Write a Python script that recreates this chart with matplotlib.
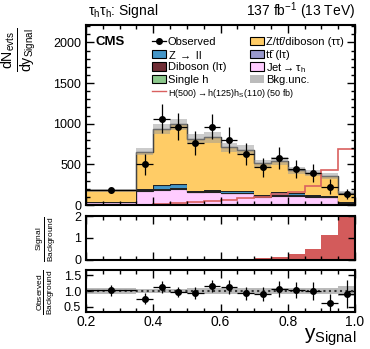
import numpy as np
import matplotlib
matplotlib.use('Agg')
import matplotlib.pyplot as plt
from matplotlib.patches import Rectangle
from matplotlib.lines import Line2D
from matplotlib.ticker import MultipleLocator, FormatStrFormatter

plt.rcParams['font.family'] = ['Liberation Sans', 'DejaVu Sans']
plt.rcParams['mathtext.fontset'] = 'custom'
plt.rcParams['mathtext.rm'] = 'Liberation Sans'
plt.rcParams['mathtext.it'] = 'Liberation Sans:italic'
plt.rcParams['mathtext.bf'] = 'Liberation Sans:bold'

# binning in y_Signal
edges = [0.2, 0.35, 0.4, 0.45, 0.5, 0.55, 0.6, 0.65, 0.7, 0.75, 0.8, 0.85, 0.9, 0.95, 1.0]

# background components (dN/dy)
single_h = [5, 5, 8, 8, 8, 8, 8, 8, 8, 10, 10, 10, 10, 5]
tt_lt = [2, 5, 8, 8, 6, 7, 6, 6, 5, 6, 6, 5, 5, 2]
jet_tau = [30, 165, 165, 185, 140, 150, 130, 130, 90, 95, 95, 88, 80, 20]
diboson_lt = [3, 8, 10, 10, 8, 8, 8, 8, 8, 8, 8, 8, 8, 3]
z_ll = [3, 10, 55, 50, 8, 10, 15, 15, 8, 40, 30, 8, 5, 2]
z_tautau = [136, 465, 691, 731, 642, 650, 545, 512, 393, 383, 280, 277, 246, 114]
bkg_rel_unc = [0.09, 0.07, 0.07, 0.07, 0.08, 0.08, 0.08, 0.08, 0.09, 0.09, 0.1, 0.1, 0.11, 0.15]

# observed data
observed = [182, 500, 1062, 962, 762, 962, 800, 625, 462, 579, 442, 395, 223, 132]
observed_err = [33, 125, 180, 167, 146, 154, 154, 138, 117, 133, 113, 113, 92, 63]

# signal H(500)->h(125)hS(110), 50 fb
signal = [0, 2, 15, 20, 40, 50, 65, 80, 95, 130, 160, 238, 431, 686]
sig_over_bkg = [0, 0, 0.005, 0.005, 0.01, 0.015, 0.02, 0.03, 0.065, 0.13, 0.27, 0.5, 1.11, 2.5]

C_ZTT = '#ffcc66'
C_ZLL = '#4496c8'
C_TT = '#9999cc'
C_VV = '#6f2d35'
C_JET = '#ffccff'
C_H = '#8cc88c'
C_SIG = '#d9605f'

edges = np.array(edges)
centers = 0.5 * (edges[1:] + edges[:-1])
halfw = 0.5 * (edges[1:] - edges[:-1])

# bottom -> top
stack = [(single_h, C_H), (tt_lt, C_TT), (jet_tau, C_JET), (diboson_lt, C_VV),
         (z_ll, C_ZLL), (z_tautau, C_ZTT)]

fig = plt.figure(figsize=(3.70, 3.49), dpi=100)
W, H = 370.0, 349.0


def px(x, y):
    return x / W, 1 - y / H


L, R = 86 / W, 355 / W
ax = fig.add_axes([L, 1 - 205 / H, R - L, 180 / H])
ax_sb = fig.add_axes([L, 1 - 259.5 / H, R - L, 44 / H])
ax_r = fig.add_axes([L, 1 - 312 / H, R - L, 42 / H])

# stacked backgrounds
bottom = np.zeros(len(centers))
for vals, col in stack:
    top = bottom + np.array(vals)
    ax.stairs(top, edges, baseline=bottom, fill=True, color=col, lw=0)
    ax.stairs(top, edges, baseline=None, color='#222222', lw=0.8)
    bottom = top
total = bottom
unc = total * np.array(bkg_rel_unc)
ax.stairs(total, edges, baseline=None, color='#444444', lw=1.0)
ax.stairs(total + unc, edges, baseline=total - unc, fill=True, color='#999999', alpha=0.5, lw=0)

ax.stairs(signal, edges, baseline=None, color=C_SIG, lw=1.2)

ax.errorbar(centers, observed, yerr=observed_err, xerr=halfw, fmt='o', color='black',
            ms=4, lw=0.9, capsize=0, zorder=5)

ax.set_xlim(0.2, 1.0)
ax.set_ylim(0, 2215)
ax.yaxis.set_major_locator(MultipleLocator(500))
ax.yaxis.set_minor_locator(MultipleLocator(100))
ax.tick_params(labelbottom=False)

# signal / background
ax_sb.stairs(sig_over_bkg, edges, fill=True, color='#d35b5b', lw=0)
ax_sb.set_xlim(0.2, 1.0)
ax_sb.set_ylim(0, 2.03)
ax_sb.set_yticks([0, 1, 2])
ax_sb.tick_params(labelbottom=False)

# observed / background
ratio = np.array(observed) / total
ratio_err = np.array(observed_err) / total
rel = np.array(bkg_rel_unc)
ax_r.stairs(1 + rel, edges, baseline=1 - rel, fill=True, color='#bbbbbb', lw=0)
ax_r.axhline(1.0, color='#333333', ls=':', lw=1.5)
ax_r.errorbar(centers, ratio, yerr=ratio_err, xerr=halfw, fmt='o', color='black',
              ms=4, lw=0.9, capsize=0, zorder=5)
ax_r.set_xlim(0.2, 1.0)
ax_r.set_ylim(0.33, 1.67)
ax_r.set_yticks([0.5, 1.0, 1.5])
ax_r.yaxis.set_major_formatter(FormatStrFormatter('%.1f'))
ax_r.xaxis.set_major_formatter(FormatStrFormatter('%.1f'))

for a in (ax, ax_sb, ax_r):
    a.xaxis.set_major_locator(MultipleLocator(0.2))
    a.xaxis.set_minor_locator(MultipleLocator(0.05))
    a.tick_params(which='both', direction='in', top=True, right=True, width=1.0, labelsize=9)
    a.tick_params(which='major', length=6)
    a.tick_params(which='minor', length=3)
    for s in a.spines.values():
        s.set_linewidth(1.5)
ax_sb.tick_params(which='major', axis='y', length=5)
ax_r.tick_params(which='major', axis='y', length=5)
ax_r.tick_params(axis='x', labelsize=10, pad=2)

# legend, drawn by hand
col1 = [('obs', 'Observed'), (C_ZLL, r'Z $\rightarrow$ ll'), (C_VV, 'Diboson (lτ)'), (C_H, 'Single h')]
col2 = [(C_ZTT, 'Z/tt\u0304/diboson (ττ)'), (C_TT, 'tt\u0304 (lτ)'),
        (C_JET, r'Jet$\rightarrow$τ$_\mathrm{h}$'), ('unc', 'Bkg.unc.')]
rows = [41, 54, 66.5, 79]
for x0, entries in ((152, col1), (250, col2)):
    for (col, lab), y in zip(entries, rows):
        if col == 'obs':
            fig.add_artist(Line2D([px(x0, y)[0], px(x0 + 14, y)[0]], [px(x0, y)[1]] * 2,
                                  color='black', lw=0.9))
            fig.add_artist(Line2D([px(x0 + 7, y)[0]], [px(x0 + 7, y)[1]], marker='o',
                                  ms=4, color='black'))
        elif col == 'unc':
            fig.add_artist(Rectangle(px(x0, y + 4.2), 14 / W, 8.4 / H, facecolor='#bbbbbb',
                                     edgecolor='none', transform=fig.transFigure))
        else:
            fig.add_artist(Rectangle(px(x0, y + 4.2), 14 / W, 8.4 / H, facecolor=col,
                                     edgecolor='black', lw=0.8, transform=fig.transFigure))
        fig.text(*px(x0 + 16, y), lab, fontsize=8, ha='left', va='center_baseline')
fig.add_artist(Line2D([px(152, 91)[0], px(166, 91)[0]], [px(152, 91)[1]] * 2, color=C_SIG, lw=1.0))
fig.text(*px(168, 91), r'H(500)$\rightarrow$h(125)h$_\mathrm{S}$(110) (50 fb)', fontsize=6.5,
         ha='left', va='center_baseline')

ax.text(0.035, 0.905, 'CMS', transform=ax.transAxes, fontsize=9.5, fontweight='bold',
        va='center', ha='left')

fig.text(88 / W, 1 - 11 / H, r'τ$_\mathrm{h}$τ$_\mathrm{h}$: Signal', fontsize=10, ha='left', va='center')
fig.text(355 / W, 1 - 11 / H, r'137 fb$^{-1}$ (13 TeV)', fontsize=10, ha='right', va='center')

fig.text(19 / W, 1 - 50 / H, r'$\frac{\mathrm{dN_{evts}}}{\mathrm{dy_{Signal}}}$', fontsize=14.5,
         rotation=90, ha='center', va='center')
fig.text(46 / W, 1 - 239 / H, r'$\frac{\mathrm{Signal}}{\mathrm{Background}}$', fontsize=8.5,
         rotation=90, ha='center', va='center')
fig.text(46 / W, 1 - 292 / H, r'$\frac{\mathrm{Observed}}{\mathrm{Background}}$', fontsize=8.5,
         rotation=90, ha='center', va='center')
fig.text(356 / W, 1 - 348.5 / H, r'$\mathrm{y_{Signal}}$', fontsize=15, ha='right', va='bottom')

fig.savefig('out.png', dpi=100)
